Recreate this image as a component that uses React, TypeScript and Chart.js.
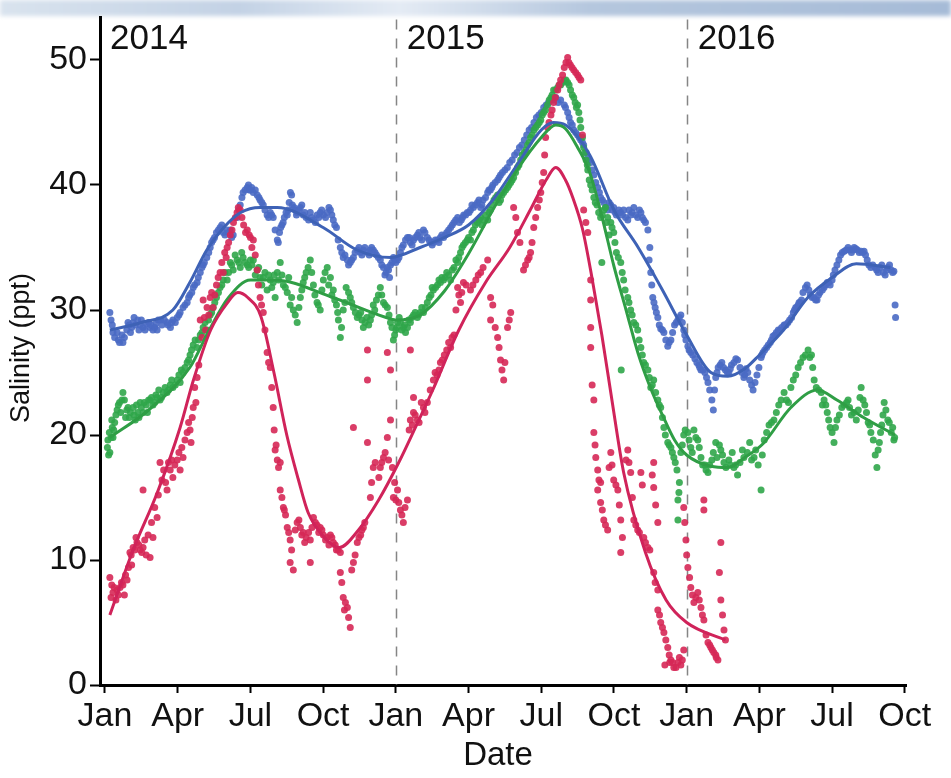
import React, { useEffect, useRef } from 'react';
import { Chart, registerables } from 'chart.js';

Chart.register(...registerables);

// x values are months since Jan 2014 (0 = Jan 2014, 12 = Jan 2015, 24 = Jan 2016)
const X_TICKS = [0, 3, 6, 9, 12, 15, 18, 21, 24, 27, 30, 33];
const MONTH_LABELS = ['Jan', 'Apr', 'Jul', 'Oct'];
const Y_TICKS = [0, 10, 20, 30, 40, 50];
const YEAR_LABELS = ['2014', '2015', '2016'];
const YEAR_STARTS = [0, 12, 24];
const Y_TITLE = 'Salinity (ppt)';
const X_TITLE = 'Date';

const blueObs: number[][] = [
  [0.2,29.8],[0.25,29.2],[0.33,28.2],[0.4,27.8],[0.5,28.2],[0.6,27.4],[0.74,27.4],[0.8,27.8],[0.9,28.4],[1.0,28.8],
  [1.1,28.6],[1.16,29],[1.25,28.8],[1.35,29.2],[1.45,28.8],[1.57,28.6],[1.7,28.9],[1.86,28.6],[1.98,28.4],[2.1,28.9],
  [2.2,29.2],[2.35,28.8],[2.56,29],[2.7,28.6],[2.8,29.2],[2.98,29.4],[3.1,29.8],[3.22,30.2],[3.39,30.6],[3.5,31.2],
  [3.64,31.8],[3.8,32.2],[3.93,33],[4.05,33.6],[4.2,34.2],[4.34,35],[4.46,35.6],[4.6,36.2],[4.75,36.6],[4.88,36.2],
  [5.04,36.4],[5.17,36.4],[5.29,36],[5.45,37.4],[5.58,38.4],[5.7,39.4],[5.87,39.8],[5.95,39.6],[6.05,39.8],[6.12,39.4],
  [6.2,39.6],[6.28,39.2],[6.4,38.8],[6.53,38.4],[6.69,37.6],[6.82,37.8],[6.94,37.4],[7.02,36.4],[7.11,35.6],[7.2,36.2],
  [7.3,36.8],[7.4,37.4],[7.52,37.6],[7.6,38.6],[7.7,39.2],[7.73,38.4],[7.85,38],[7.93,37.8],[8.06,38.2],[8.18,37.6],
  [8.3,37.4],[8.47,37.8],[8.6,37.2],[8.75,37.6],[8.88,37.8],[9.01,37.6],[9.17,37.8],[9.3,38],[9.42,37.2],[9.55,36.6],
  [9.71,35],[9.83,34.2],[10.0,34],[10.12,33.8],[10.25,34.2],[10.41,34.8],[10.55,34.6],[10.66,34.8],[10.83,34.6],[10.95,34.8],
  [11.07,34.8],[11.2,34.4],[11.36,34],[11.49,33.4],[11.6,33],[11.7,33.2],[11.78,33.6],[11.9,34.2],[12.07,34],[12.19,34.6],
  [12.31,35.2],[12.48,35.8],[12.6,35.4],[12.73,35.6],[12.89,36],[13.0,35.8],[13.14,36.4],[13.3,35.8],[13.45,35.4],[13.55,35.4],
  [13.72,35.6],[13.84,35.8],[13.97,35.8],[14.1,36.2],[14.26,36.6],[14.4,37],[14.55,37.4],[14.7,37.2],[14.8,37.6],[14.95,37.8],
  [15.08,38],[15.2,38.2],[15.37,38.6],[15.5,38.2],[15.6,38.8],[15.79,39.4],[15.9,39.6],[16.0,40],[16.2,40.4],[16.32,40.8],
  [16.5,41.2],[16.7,41.8],[16.9,42.4],[17.1,43],[17.3,43.6],[17.5,44.4],[17.7,45],[17.9,45.6],[18.1,46.2],[18.3,46.6],
  [18.5,46.8],[18.7,46.6],[18.8,46.8],[18.95,46.4],[19.09,45.8],[19.21,45],[19.34,44.4],[19.5,44],[19.63,43.6],[19.75,43.2],
  [19.92,42.2],[20.04,41.8],[20.17,40.8],[20.33,39.8],[20.45,39],[20.58,38.6],[20.74,38],[20.87,38.4],[20.99,38.2],[21.1,37.6],
  [21.28,37.8],[21.4,38],[21.57,37.2],[21.69,37.6],[21.82,38.2],[21.98,37.4],[22.11,37.8],[22.23,37.2],[22.4,36.4],[22.45,34],
  [22.52,33],[22.6,31],[22.7,30.2],[22.81,29.4],[22.93,28.5],[23.06,28.2],[23.22,27.1],[23.35,27.6],[23.5,28.8],[23.64,29.2],
  [23.76,29.6],[23.88,28.4],[23.97,27.6],[24.05,27.1],[24.17,26.6],[24.34,26.1],[24.5,25.6],[24.59,25.2],[24.75,25],[24.88,24.2],
  [25.04,22.8],[25.1,22],[25.2,24.6],[25.3,25.4],[25.45,25.8],[25.6,25.2],[25.74,25],[25.85,25.6],[26.03,26.1],[26.2,25.4],
  [26.36,24.6],[26.45,25.3],[26.6,24.4],[26.74,23.6],[26.9,24.8],[27.07,26.2],[27.15,26.6],[27.3,27],[27.45,27.4],[27.56,27.9],
  [27.7,28.2],[27.85,28.4],[28.02,28.8],[28.1,28.8],[28.25,29.2],[28.4,29.8],[28.5,30.2],[28.6,30.4],[28.68,30.6],[28.8,31.4],
  [28.97,32],[29.1,31.2],[29.25,31],[29.38,30.8],[29.5,31.4],[29.67,31.8],[29.8,32.2],[29.92,32],[30.05,32.8],[30.2,33.6],
  [30.35,34.4],[30.5,34.7],[30.66,35],[30.8,34.6],[30.91,35],[31.05,34.8],[31.2,34.7],[31.32,34.7],[31.45,34],[31.6,33.4],
  [31.78,33.4],[31.9,33],[32.05,33.6],[32.19,32.8],[32.3,33.4],[32.44,33.2],[32.55,33.1],[32.6,30.4],[32.62,29.4],
  [0.3,28.8],[0.55,27.6],[0.7,28],[0.95,29],[1.05,28.2],[1.2,29.4],[1.4,28.4],[1.5,29.2],[1.65,28.4],[1.8,29],
  [1.9,28.8],[2.05,28.6],[2.15,28.4],[2.3,29.2],[2.45,29.2],[2.6,28.8],[2.75,29],[2.9,29],[3.05,29.6],
  [3.3,30.4],[3.45,31],[3.58,31.4],[3.7,32],[3.85,32.6],[4.0,33.4],[4.1,33.8],[4.28,34.6],[4.4,35.4],[4.52,35.8],
  [4.68,36.4],[4.82,36.8],[4.95,36],[5.1,36.2],[5.23,35.8],
  [5.52,38],[5.65,39],[5.78,39.6],[5.92,40],[6.0,39.6],[6.35,39],[6.47,38.6],[6.6,38],[6.75,37.4],[6.88,37.6],
  [7.15,35.4],[7.25,36.6],[7.35,37],[7.47,37.8],[7.56,38],[7.65,39.4],[7.8,38.2],[7.9,37.6],[8.0,38],[8.12,38.4],
  [8.24,37.8],[8.4,37.2],[8.53,37.4],[8.68,37],[8.82,37.4],[8.94,38],[9.1,37.4],[9.24,38.2],[9.36,37.6],[9.48,36.8],
  [9.62,35.6],[9.77,34.6],[9.9,34.4],[10.05,33.6],[10.18,34],[10.32,34.6],[10.48,35],[10.6,34.4],[10.72,35],[10.9,34.4],
  [11.0,35],[11.14,34.6],[11.28,34.2],[11.42,33.6],[11.55,32.8],[11.65,33.4],[11.74,32.6],[11.84,33.8],[11.95,34],
  [12.0,33.8],[12.13,34.2],[12.25,35],[12.4,35.6],[12.55,35.8],[12.67,35.2],[12.8,35.8],[12.95,36.2],[13.07,35.6],[13.2,36.2],
  [13.37,35.6],[13.5,35.2],[13.63,35.6],[13.78,35.4],[13.9,36],[14.04,36],[14.18,36.4],[14.33,36.8],[14.47,37.2],[14.62,37],
  [14.75,37.4],[14.88,37.6],[15.02,37.8],[15.14,38.4],[15.28,38.4],[15.43,38.8],[15.55,38.4],[15.7,39],[15.84,39.6],[15.96,39.8],
  [16.1,40.2],[16.26,40.6],[16.4,41],[16.6,41.4],[16.8,42],[17.0,42.6],[17.2,43.2],[17.4,44],[17.6,44.6],[17.8,45.4],
  [18.0,45.8],[18.2,46.4],[18.4,46.8],[18.6,47],
  [19.0,46.2],[19.15,45.4],[19.28,44.8],[19.42,44.2],[19.57,43.8],[19.7,43.4],[19.85,42.6],[19.98,42],[20.1,41.2],[20.25,40.2],
  [20.4,39.4],[20.52,38.8],[20.66,38.2],[20.8,38.6],[20.93,38],[21.05,37.8],[21.2,38],[21.35,37.6],[21.48,37.4],[21.62,38],
  [21.75,37.8],[21.9,37.6],[22.05,38],[22.17,37.4],[22.3,37],[22.48,35],[22.56,32],[22.65,30.6],[22.75,29.8],[22.87,28.8],
  [23.0,28.4],[23.14,27.6],[23.28,27.4],[23.42,28.2],[23.57,29],[23.7,29.4],[23.82,29],[23.92,28],
  [24.1,26.8],[24.25,26.4],[24.42,25.8],[24.54,25.4],[24.67,25.2],[24.82,24.6],[24.95,23.6],[25.15,23.6],[25.25,25],[25.38,25.6],
  [25.52,25.4],[25.68,25],[25.8,25.3],[25.95,25.8],[26.1,26],[26.28,25],[26.4,24.8],[26.52,25],[26.68,24],[26.82,24.2],
  [26.98,25.4],[27.1,26.4],[27.22,26.8],[27.37,27.2],[27.5,27.6],[27.63,28],[27.78,28.4],[27.92,28.6],[28.06,28.8],[28.18,29],
  [28.33,29.4],[28.45,30],[28.55,30.2],[28.64,30.6],[28.74,30.8],[28.9,31.8],[29.04,31.6],[29.18,31],[29.32,30.8],[29.44,31.2],
  [29.6,31.6],[29.73,32],[29.86,32.2],[30.0,32.4],[30.12,33.2],[30.28,34],[30.42,34.6],[30.58,34.8],[30.72,34.8],[30.86,34.8],
  [30.98,34.9],[31.12,34.6],[31.26,34.6],[31.38,34.4],[31.52,33.6],[31.68,33.6],[31.84,33.2],[31.97,33.4],[32.12,33],[32.25,33.2],
  [32.37,33.6],[32.5,33]
];

const greenObs: number[][] = [
  [0.1,19],[0.15,18.4],[0.2,18.6],[0.25,19.8],[0.3,20.6],[0.33,19.8],[0.4,21],[0.5,22],[0.6,22.6],[0.74,23.4],
  [0.8,22.8],[0.9,22],[1.0,21.4],[1.16,22.2],[1.25,21.2],[1.35,21.8],[1.45,22.6],[1.57,21.8],[1.7,22.4],[1.86,22.8],
  [1.98,22.4],[2.1,23.2],[2.27,22.8],[2.4,23.4],[2.56,23.4],[2.69,24],[2.8,23.8],[2.98,24.4],[3.1,24.2],[3.22,25],
  [3.39,25.8],[3.51,26.4],[3.64,27.2],[3.8,27],[3.93,28],[4.05,28.6],[4.21,28.4],[4.34,29.6],[4.46,30.2],[4.6,31],
  [4.75,31.8],[4.88,32.4],[5.04,32.4],[5.17,33.8],[5.29,33.2],[5.45,34],[5.58,33.4],[5.7,34.2],[5.87,33.6],[6.0,34],
  [6.12,34],[6.28,33.2],[6.4,32.6],[6.53,32.6],[6.69,31.6],[6.82,32.4],[6.94,32.2],[7.02,31],[7.11,33],[7.23,33.8],
  [7.36,32],[7.52,31.4],[7.64,30.4],[7.77,30],[7.93,29],[8.06,31],[8.18,32.2],[8.3,33],[8.47,34],[8.6,32],
  [8.75,30.6],[8.88,30],[8.95,31.6],[9.01,32.4],[9.17,33.4],[9.3,32.6],[9.42,31.6],[9.55,30.4],[9.63,29.2],[9.71,27.8],
  [9.83,30],[9.95,31.8],[10.12,31],[10.25,30.2],[10.41,29.4],[10.55,29.8],[10.66,28.6],[10.8,29.4],[10.95,29.2],[11.07,30.4],
  [11.2,30.8],[11.36,31.8],[11.49,30.6],[11.65,30.2],[11.78,29],[11.9,27.6],[12.0,28.4],[12.07,29],[12.19,29],[12.31,28.6],
  [12.4,28.2],[12.48,28.6],[12.6,29],[12.73,29.6],[12.89,29.4],[13.0,29.8],[13.14,29.8],[13.3,30.6],[13.45,31.2],[13.55,31.6],
  [13.72,32],[13.84,32.2],[13.97,32.4],[14.1,33],[14.26,32.4],[14.4,33.4],[14.55,33.8],[14.67,34.6],[14.79,35.2],[14.95,35.6],
  [15.08,35.6],[15.2,36.4],[15.37,37],[15.5,37.4],[15.6,37.2],[15.79,37.2],[15.9,38],[16.05,38.8],[16.2,39.2],[16.32,38.8],
  [16.45,39.4],[16.61,39.8],[16.74,40.2],[16.86,40.6],[17.02,41.4],[17.15,42],[17.3,42.6],[17.44,43.2],[17.56,43.8],[17.7,44.4],
  [17.85,44.8],[17.98,45.2],[18.1,45.8],[18.26,46.4],[18.4,47],[18.51,47.6],[18.68,47.8],[18.8,48],[18.95,48.4],[19.09,48.2],
  [19.21,47.6],[19.34,47],[19.45,46.2],[19.55,45.8],[19.63,44.6],[19.75,43],[19.85,42],[19.92,41.2],[20.04,40],[20.17,39],
  [20.3,38.4],[20.45,37.4],[20.58,38],[20.74,37.4],[20.8,36],[20.87,37],[20.99,36.2],[20.5,33.8],[21.1,34.6],[21.28,33.8],
  [21.4,32.4],[21.57,31],[21.69,30],[21.82,29],[21.98,28.4],[21.3,25.2],[22.11,27],[22.23,25.8],[22.4,25.2],[22.52,23.8],
  [22.64,24.4],[22.81,22.8],[22.93,22.2],[23.06,20.6],[23.22,19.4],[23.35,19],[23.47,18.2],[23.6,17.2],[23.64,14.8],[23.7,16.2],
  [23.64,13.2],[23.76,18.6],[23.88,20],[24.05,20.2],[24.17,19],[24.3,20.4],[24.46,19.6],[24.59,18.2],[24.75,17.6],[24.88,17],
  [25.04,18],[25.2,19.4],[25.41,18.8],[25.54,17.8],[25.74,18],[25.95,17.4],[26.1,16.8],[26.36,18.2],[26.6,19.4],[26.78,18.2],
  [27.07,15.6],[27.2,19.6],[27.4,20.8],[27.6,21.2],[27.8,22.4],[28.02,23.4],[28.2,22.6],[28.4,24.4],[28.6,25.4],[28.8,26.2],
  [29.01,26.8],[29.15,26.4],[29.26,24.4],[29.45,23.6],[29.67,22.8],[29.8,21.8],[29.92,20.6],[30.08,19.4],[30.2,21.2],[30.4,22.2],
  [30.66,22.8],[30.8,21.6],[31.0,21.2],[31.2,23.8],[31.35,22.4],[31.49,21],[31.6,20.2],[31.78,18.4],[31.85,17.4],[31.95,19.4],
  [32.05,20.8],[32.15,22.6],[32.3,21.2],[32.44,20.2],[32.55,19.6],
  [0.12,19.6],[0.18,20.2],[0.28,21.2],[0.36,20.4],[0.45,21.6],[0.55,22.4],[0.65,21.8],[0.7,22.8],[0.85,21.4],[0.95,22.2],
  [1.05,21.8],[1.2,21.6],[1.3,22.4],[1.4,21.4],[1.5,22.2],[1.62,22.6],[1.75,21.8],[1.8,22.8],[1.92,23],[2.05,22.6],
  [2.15,23],[2.22,23.6],[2.33,23],[2.48,23.8],[2.62,23.6],[2.75,24.4],[2.9,24],[3.05,24.8],[3.15,25.2],[3.3,25.4],
  [3.45,26],[3.57,26.8],[3.72,27.6],[3.86,27.6],[4.0,28.2],[4.13,29],[4.27,29.2],[4.4,29.8],[4.53,30.6],[4.68,31.4],
  [4.82,32],[4.95,33],[5.1,33],[5.23,33.6],[5.37,34.4],[5.52,33.8],[5.64,34.6],[5.78,33.8],[5.93,33.4],[6.06,33.6],
  [6.2,32.8],[6.34,33.4],[6.47,32],[6.6,33],[6.75,32.8],[6.88,31.8],[6.98,32.8],[7.16,32.4],[7.3,32.8],[7.44,31.8],
  [7.58,32.6],[7.7,31],[7.85,29.6],[8.0,30.2],[8.12,31.6],[8.24,32.6],[8.38,33.4],[8.53,33],[8.66,31.2],[8.8,30.4],
  [9.08,33],[9.23,32],[9.36,31.2],[9.48,30.8],[9.6,29.8],[9.76,28.6],[9.9,30.6],[10.05,31.4],[10.18,30.6],[10.33,29.8],
  [10.48,29.6],[10.6,29.2],[10.73,29],[10.88,28.8],[11.0,29.6],[11.13,30],[11.28,31.2],[11.42,31.2],[11.56,30.4],[11.72,29.6],
  [11.84,28.6],[11.95,28],
  [12.04,28.6],[12.14,29.4],[12.25,28.4],[12.36,28.8],[12.53,29.2],[12.66,29.4],[12.8,29.8],[12.94,29.6],[13.07,30.2],[13.22,30.2],
  [13.38,31],[13.5,31.8],[13.64,31.8],[13.78,32.4],[13.9,32.6],[14.03,32.6],[14.18,32.8],[14.33,33.2],[14.48,34],[14.6,34.2],
  [14.73,35],[14.87,35.4],[15.0,35.8],[15.14,36.2],[15.28,36.8],[15.43,37.2],[15.55,36.8],[15.7,37.6],[15.84,37.8],[15.96,38.4],
  [16.12,39],[16.26,38.6],[16.38,39.2],[16.53,39.6],[16.67,40],[16.8,40.4],[16.94,41],[17.08,41.6],[17.22,42.4],[17.37,42.8],
  [17.5,43.4],[17.63,44],[17.77,44.6],[17.92,45],[18.04,45.6],[18.18,46],[18.33,46.8],[18.45,47.2],[18.6,47.6],[18.74,48],
  [18.88,48.2],[19.02,48.4],[19.15,48],[19.28,47.2],[19.4,46.6],[19.5,46.4],[19.6,45.2],[19.7,43.8],[19.8,42.6],[19.9,41.6],
  [19.98,40.4],[20.1,39.6],[20.23,38.6],[20.37,37.8],[20.52,37.6],[20.65,38.2],[20.7,37],[20.92,36.6],[21.04,35.4],[21.18,34.2],
  [21.34,33],[21.46,31.6],[21.62,30.6],[21.75,29.6],[21.9,28.8],[22.04,27.6],[22.17,26.4],[22.3,25.6],[22.46,24.6],[22.58,24],
  [22.72,23.4],[22.87,22.4],[23.0,21.4],[23.12,20],[23.28,19.2],[23.41,18.6],[23.53,17.8],[23.68,15.4],
  [23.82,19.2],[23.94,20.4],[24.1,19.6],[24.23,18.6],[24.38,19.8],[24.52,19],[24.66,17.6],[24.8,17.2],[24.95,17.6],[25.1,18.6],
  [25.25,18.2],[25.35,19.2],[25.48,18.4],[25.62,17.4],[25.8,17.6],[25.88,18.6],[26.02,17.6],[26.2,17.8],[26.3,18.8],[26.5,18.6],
  [26.68,18],[26.85,18.8],[26.95,17.6],[27.12,18.4],[27.3,20.2],[27.5,21],[27.7,21.8],[27.9,22.8],[28.12,22.8],[28.3,23.8],
  [28.5,24.8],[28.7,25.8],[28.9,26.4],[29.08,26.2],[29.2,25.4],[29.35,23.8],[29.55,23.4],[29.6,22.4],[29.74,22.4],[29.86,21.2],
  [30.0,20.2],[30.14,20.6],[30.3,21.6],[30.5,22.4],[30.6,22.6],[30.72,22.2],[30.9,21.8],[31.08,22],[31.15,23],[31.28,22.8],
  [31.42,21.8],[31.55,20.8],[31.7,19.6],[31.9,18.8],[32.0,20.2],[32.1,21.6],[32.22,22],[32.36,21],[32.5,20.6],[32.58,19.8]
];

const redObs: number[][] = [
  [0.2,8.6],[0.25,7],[0.33,7.4],[0.45,6.8],[0.5,7.6],[0.62,7.8],[0.74,8],[0.8,7.2],[0.91,8.4],[1.03,10.6],
  [1.1,9.6],[1.16,11],[1.32,11.4],[1.45,10.8],[1.57,11],[1.7,10.4],[1.86,10.2],[1.57,15.6],[1.98,11.8],[2.15,13.4],
  [2.27,17.8],[2.35,16.4],[2.56,15.6],[2.69,17.2],[2.8,16.6],[2.98,18],[3.1,17.2],[3.22,18.2],[3.39,20.2],[3.51,20.4],
  [3.55,19.4],[3.64,22.2],[3.7,23.8],[3.8,24.6],[3.93,29.2],[4.05,30.8],[4.15,28.4],[4.21,30.2],[4.34,31],[4.46,30.2],
  [4.6,32],[4.75,33],[4.88,33],[5.0,34.2],[5.04,35],[5.17,36],[5.3,37],[5.45,37.8],[5.58,38],[5.65,37.4],
  [5.87,36.4],[6.0,35.8],[6.12,35.6],[6.28,33.2],[6.4,31],[6.53,29.8],[6.69,26.6],[6.82,25.4],[6.94,22.2],[7.02,18.8],
  [7.11,18],[7.23,17.8],[7.23,15.6],[7.36,14.2],[7.45,13.6],[7.52,12.6],[7.64,11.6],[7.64,9.8],[7.77,9.2],[7.93,13],
  [8.06,12.6],[8.18,12.2],[8.3,11.8],[8.47,11.6],[8.47,9.8],[8.6,13.4],[8.75,12.8],[8.88,12.6],[9.01,12],[9.17,11.8],
  [9.3,12],[9.42,11.4],[9.55,10.8],[9.71,10.6],[9.71,9],[9.83,7],[9.92,6.6],[10.0,6.2],[10.12,4.6],[10.25,9.8],
  [10.41,11.4],[10.55,12],[10.66,12.6],[10.83,19.4],[10.95,15],[11.07,17.4],[11.36,17.4],[11.49,18.2],[11.65,19.8],[11.78,21.2],
  [11.86,17.4],[11.9,15],[12.07,15.6],[12.19,14],[12.31,13],[12.48,14.8],[12.6,21.2],[12.89,21.2],[13.14,22.2],[10.25,20.6],
  [10.83,26.8],[10.83,24.4],[11.65,26.6],[11.78,25.2],[12.6,26.8],
  [12.73,21.8],[12.73,23],[13.3,22.6],[13.55,24.4],[13.7,24.8],[13.84,25.8],[14.0,26.4],[14.26,27],[14.4,28],[14.55,31.8],
  [14.67,30.6],[14.79,32.2],[15.08,31.6],[15.3,32.4],[15.5,33],[15.79,34],[15.91,31],[15.91,29.2],[16.2,27.8],[16.32,26],
  [16.45,24.4],[16.61,28.6],[16.74,29.8],[16.86,38.2],[17.02,36.2],[17.27,33.2],[17.44,34],[17.56,34.6],[17.69,36.6],[17.85,38.2],
  [17.98,39.4],[18.1,41],[18.18,43.8],[18.26,44.6],[18.4,45.6],[18.51,46.6],[18.68,47.6],[18.8,48.4],[18.95,49.4],[19.09,50.2],
  [19.2,49.6],[19.34,49.2],[19.5,48.8],[19.63,48.4],[19.75,38],[19.92,36.2],[20.04,32.4],[20.04,30.8],[20.04,28.6],[20.04,27],
  [20.17,22.8],[20.17,20.2],[20.25,18.2],[20.33,17.2],[20.33,15.6],[20.45,16.2],[20.45,14.6],[20.58,13.2],[20.74,12.4],[20.87,18.6],
  [20.99,16.4],[21.16,15.6],[21.28,13.2],[21.28,10.6],[21.57,18.8],[21.69,17],[21.82,13.2],[21.98,12.4],[22.11,17],[22.23,11.8],
  [22.4,11],[22.64,17.8],[22.64,15.8],[22.81,13],[22.64,9],[22.81,7.6],[22.81,6],[22.93,5],[23.06,4.2],[23.22,3],
  [23.35,2],[23.47,1.4],[23.64,1.8],[23.76,1.6],[23.88,2.8],[23.88,14.2],[23.97,11.6],[24.05,9.4],[24.17,7.8],[24.3,6.6],
  [24.46,7.4],[24.59,6.2],[24.71,5.2],[24.71,14.8],[24.71,14],[24.88,3.4],[25.12,2.6],[25.29,2],[25.41,6.8],[25.54,4.4],
  [25.41,11.4],[23.1,1.6],[23.3,1.8],[25.0,3],[25.2,2.4],
  [0.28,8],[0.38,7.8],[0.55,7.2],[0.68,8.2],[0.85,8.8],[0.97,9.4],[1.08,10.4],[1.22,10.8],[1.28,11.8],[1.4,11.2],
  [1.52,10.6],[1.64,11.6],[1.78,12],[1.92,13],[2.05,14.2],[2.2,15.2],[2.42,17.2],[2.5,16.2],[2.62,17.8],[2.75,18],
  [2.88,17.6],[3.05,18.6],[3.17,19],[3.3,19.6],[3.45,21],[3.6,21.4],[3.75,22.6],[3.87,25.6],[4.0,27.8],[4.1,29.4],
  [4.28,29.6],[4.4,31.4],[4.53,31.2],[4.67,32.6],[4.82,33.8],[4.94,34.6],[5.1,35.4],[5.24,36.4],[5.38,37.4],[5.5,38.2],
  [5.72,36.8],[5.8,36.2],[5.95,36],[6.06,35],[6.2,34.4],[6.33,32],[6.46,30.4],[6.6,28.4],[6.75,25.8],[6.88,23.8],
  [6.98,20.4],[7.06,19.2],[7.16,17.4],[7.3,15],[7.4,14],[7.58,12.2],[7.7,10.8],[7.85,12.4],[8.0,13.2],[8.12,12],
  [8.24,11.4],[8.4,12.2],[8.54,12.6],[8.68,13],[8.82,12.2],[8.95,12.4],[9.1,11.6],[9.24,11.2],[9.36,11.8],[9.5,11.2],
  [9.62,10.8],[9.77,8.2],[9.88,6],[10.05,5.4],[10.18,9.2],[10.32,10.4],[10.48,11.8],[10.6,12.4],[10.72,13],[11.0,16.2],
  [11.15,17.8],[11.3,16.6],[11.42,17.8],[11.56,18.6],[11.7,18],[11.95,16.2],[12.0,14.8],[12.12,14.6],[12.25,13.6],[12.38,14.2],
  [12.55,20.4],[12.68,20.8],[12.8,21.6],[12.96,21],[13.05,22.6],[13.2,21.8],[13.42,23.6],[13.62,25],[13.78,25.2],[13.92,26],
  [14.1,26.8],[14.18,27.4],[14.32,27.8],[14.48,30],[14.6,31.2],[14.72,31.4],[14.9,32],[15.18,32],[15.4,32.8],[15.6,33.4],
  [16.0,30.4],[16.1,28.6],[16.26,27],[16.38,25.2],[16.5,25.8],[16.68,29.2],[16.95,37.4],[17.12,35.4],[17.35,33.6],[17.5,34.2],
  [17.62,35.4],[17.77,37.4],[17.92,38.8],[18.04,40.2],[18.14,42.4],[18.32,45],[18.45,46],[18.58,47],[18.74,48],[18.88,48.8],
  [19.02,49.8],[19.14,49.8],[19.27,49.4],[19.42,49],[19.56,48.6],[19.7,44],[19.84,37],[20.1,24],[20.22,19.2],[20.38,16.4],
  [20.52,14],[20.65,12.8],[20.8,17.4],[20.92,17.6],[21.08,16],[21.22,14.4],[21.35,11.8],[21.5,18],[21.62,17.8],[21.76,15],
  [21.9,12.8],[22.05,12.2],[22.17,16],[22.3,11.4],[22.48,10.8],[22.58,16.8],[22.72,14.4],[22.7,8.2],[22.88,5.6],[23.0,4.6],
  [23.14,3.6],[23.28,2.4],[23.42,1.8],[23.56,1.4],[23.7,2.2],[23.82,2],[23.92,13],[24.0,10.4],[24.12,8.6],[24.24,7.2],
  [24.38,7],[24.52,6.8],[24.65,5.6],[24.8,4],[24.95,3.2],[25.06,2.8],[25.22,2.2],[25.35,9],[25.48,5.6],[25.6,3.6]
];

const blueFit: number[][] = [
  [0.2,28.4],[1.5,29],[2.8,30],[3.5,32.2],[4.2,34.8],[4.9,36.6],[5.6,37.8],[6.4,38.2],[7.1,38.2],[9,36.6],
  [10.4,34.8],[11.8,34.2],[13,35],[14,35.8],[15,36.8],[16,38.8],[17,41.6],[18,44.4],[18.5,45],[19,44.8],
  [20,42.4],[21,38],[22,35],[23,31.6],[24,28],[25,25],[25.7,24.7],[26.4,25.3],[27,26.4],[28,28.4],
  [29,31],[30,32.6],[31,33.7],[32.4,33.4]
];

const greenFit: number[][] = [
  [0.2,19.8],[1.8,22],[3.5,25.4],[4.3,28.4],[5.1,31],[6,32.4],[7,32.4],[9.4,31],[11.6,29.4],[12,29.2],
  [13,29.6],[14,31.5],[15,34.5],[16,38],[17,41.2],[18,43.8],[18.6,44.8],[19,44.5],[19.5,43],[20,41],
  [20.5,37.5],[21,33.5],[21.5,30],[22,26.5],[22.5,23.8],[23,21.6],[23.5,19.6],[24,18.4],[25,17.5],[25.7,17.4],
  [26.4,18.2],[27.15,19.3],[28.3,22.2],[29.4,23.6],[30.2,22.8],[31.3,21.4],[32.6,20]
];

const redFit: number[][] = [
  [0.2,5.6],[1.16,10.8],[2.16,15.4],[3.1,20.6],[3.65,24.4],[4.36,28.4],[5.06,30.6],[5.48,31.4],[5.89,31],[6.43,29.5],
  [6.97,25],[7.5,20],[7.97,16.5],[8.38,13.8],[9.05,11.8],[9.67,11],[10.46,12.4],[11.29,14.8],[12.12,17.8],[12.95,21.2],
  [13.5,23.5],[14.6,28.4],[15.7,32.2],[16.7,35],[17.6,38.2],[18.2,40.4],[18.6,41.4],[19.0,40.4],[19.3,39],[19.7,36.5],
  [20.1,32.5],[20.5,28],[20.9,23],[21.4,17],[22.3,10.6],[23.15,6.8],[24,5],[25.6,3.6]
];

const FONT = "'Liberation Sans', Arial, Helvetica, sans-serif";

const toXY = (arr: number[][]) => arr.map(([x, y]) => ({ x, y }));

const overlayPlugin = {
  id: 'overlay',
  beforeDatasetsDraw(chart: any) {
    const { ctx, chartArea, scales } = chart;
    const xs = scales.x;
    ctx.save();
    ctx.strokeStyle = '#858585';
    ctx.lineWidth = 1.5;
    ctx.setLineDash([10, 9]);
    [12, 24].forEach((m) => {
      const px = Math.round(xs.getPixelForValue(m)) + 0.5;
      ctx.beginPath();
      ctx.moveTo(px, chartArea.top + 2);
      ctx.lineTo(px, chartArea.bottom);
      ctx.stroke();
    });
    ctx.restore();
  },
  afterDraw(chart: any) {
    const { ctx, scales } = chart;
    const xs = scales.x;
    ctx.save();
    ctx.fillStyle = '#111';
    ctx.font = `35px ${FONT}`;
    ctx.textBaseline = 'alphabetic';
    ctx.textAlign = 'left';
    YEAR_LABELS.forEach((lab, i) => {
      const px = xs.getPixelForValue(YEAR_STARTS[i]);
      ctx.fillText(lab, px + (i === 0 ? 5 : 11), 49);
    });
    ctx.font = `33px ${FONT}`;
    ctx.textAlign = 'center';
    ctx.fillText(X_TITLE, 498, 765);
    ctx.translate(22, 348);
    ctx.rotate(-Math.PI / 2);
    ctx.font = `27px ${FONT}`;
    ctx.textBaseline = 'middle';
    ctx.fillText(Y_TITLE, 0, 0);
    ctx.restore();
  }
};

export default function App() {
  const ref = useRef<HTMLCanvasElement>(null);
  useEffect(() => {
    if (!ref.current) return;
    const mkPts = (data: number[][], color: string, order: number) => ({
      type: 'scatter' as const,
      data: toXY(data),
      backgroundColor: color,
      borderWidth: 0,
      pointRadius: 3.5,
      showLine: false,
      order
    });
    const mkLine = (data: number[][], color: string, order: number) => ({
      type: 'scatter' as const,
      data: toXY(data),
      borderColor: color,
      backgroundColor: color,
      borderWidth: 3,
      pointRadius: 0,
      showLine: true,
      cubicInterpolationMode: 'monotone' as const,
      order
    });
    const noPad = (s: any) => {
      s.paddingTop = 0;
      s.paddingBottom = 0;
      s.paddingLeft = 0;
      s.paddingRight = 0;
    };
    const chart = new Chart(ref.current, {
      type: 'scatter',
      data: {
        datasets: [
          mkLine(redFit, '#d0235a', 0),
          mkLine(greenFit, '#2f9e45', 1),
          mkLine(blueFit, '#3e62b6', 2),
          mkPts(redObs, 'rgba(214,40,86,0.9)', 3),
          mkPts(greenObs, 'rgba(48,166,74,0.9)', 4),
          mkPts(blueObs, 'rgba(74,106,196,0.9)', 5)
        ] as any
      },
      options: {
        responsive: false,
        animation: false,
        devicePixelRatio: 1,
        layout: { padding: { top: 17.5, right: 45, bottom: 0, left: 0 } },
        plugins: { legend: { display: false }, tooltip: { enabled: false } },
        scales: {
          x: {
            type: 'linear',
            min: -0.206,
            max: 33.05,
            afterBuildTicks: (s: any) => { s.ticks = X_TICKS.map((v) => ({ value: v })); },
            afterFit: (s: any) => { s.height = 93; noPad(s); },
            ticks: {
              autoSkip: false,
              maxRotation: 0,
              padding: 3,
              color: '#111',
              font: { family: FONT, size: 34 },
              callback: (v: any) => MONTH_LABELS[Math.round(Number(v) / 3) % 4]
            },
            grid: { display: true, drawOnChartArea: false, drawTicks: true, tickLength: 8, tickWidth: 2, tickColor: '#000' },
            border: { display: true, color: '#000', width: 3 }
          },
          y: {
            type: 'linear',
            min: 0,
            max: 53.4,
            afterBuildTicks: (s: any) => { s.ticks = Y_TICKS.map((v) => ({ value: v })); },
            afterFit: (s: any) => { s.width = 100; noPad(s); },
            ticks: {
              padding: 3,
              color: '#111',
              font: { family: FONT, size: 34 },
              callback: (v: any) => String(v)
            },
            grid: { display: true, drawOnChartArea: false, drawTicks: true, tickLength: 10, tickWidth: 2, tickColor: '#000' },
            border: { display: true, color: '#000', width: 3 }
          }
        }
      } as any,
      plugins: [overlayPlugin]
    });
    return () => chart.destroy();
  }, []);

  return (
    <div style={{ position: 'absolute', left: 0, top: 0, width: 951, height: 778, background: '#fff', overflow: 'hidden' }}>
      <div
        style={{
          position: 'absolute', left: 0, top: 0, width: 951, height: 16,
          background: 'linear-gradient(to right, #d9e3ee 0%, #c3d2e5 25%, #e4ebf4 42%, #b5c7de 62%, #a6bbd7 100%)',
          filter: 'blur(2px)'
        }}
      />
      <canvas ref={ref} width={951} height={778} style={{ position: 'absolute', left: 0, top: 0 }} />
    </div>
  );
}
